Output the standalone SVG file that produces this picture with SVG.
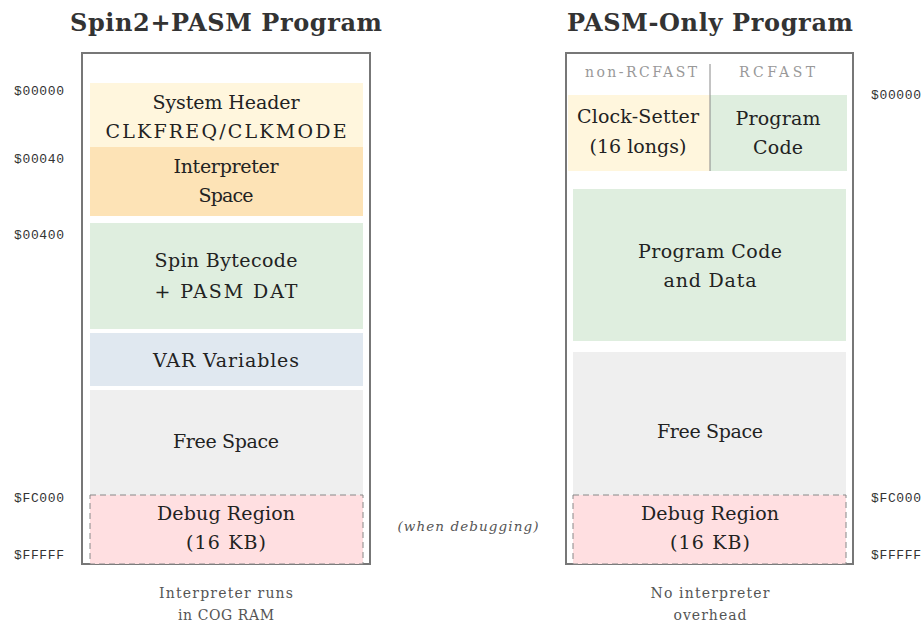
<svg xmlns="http://www.w3.org/2000/svg" width="924" height="626" viewBox="0 0 924 626">
  <style>
    .title { font-family: "DejaVu Serif", "Liberation Serif", serif; font-weight: bold; font-size: 24px; fill: #333; text-anchor: middle; }
    .lbl { font-family: "DejaVu Serif", "Liberation Serif", serif; font-size: 19px; fill: #222; text-anchor: middle; }
    .addr { font-family: "Liberation Mono", "DejaVu Sans Mono", monospace; font-size: 13px; fill: #333; }
    .hdr { font-family: "DejaVu Serif", "Liberation Serif", serif; font-size: 14px; fill: #999; text-anchor: middle; }
    .cap { font-family: "DejaVu Serif", "Liberation Serif", serif; font-size: 14px; fill: #555; text-anchor: middle; }
    .note { font-family: "DejaVu Serif", "Liberation Serif", serif; font-style: italic; font-size: 13.5px; fill: #555; text-anchor: middle; }
    .frame { fill: #fff; stroke: #777; stroke-width: 2; }
    .dbg { fill: #FFDFE1; stroke: #888; stroke-width: 1; stroke-dasharray: 6 4; }
  </style>

  <!-- Spin2 + PASM layout -->
  <g id="spin-program">
    <text class="title" x="226" y="31" textLength="312">Spin2+PASM Program</text>
    <rect class="frame" x="82" y="53" width="288" height="511"/>
    <g id="sys-header">
      <rect x="90" y="83" width="273" height="64" fill="#FFF6DD"/>
      <text class="lbl" x="226" y="109" textLength="147">System Header</text>
      <text class="lbl" x="226" y="138" textLength="241">CLKFREQ/CLKMODE</text>
    </g>
    <g id="interp-space">
      <rect x="90" y="147" width="273" height="69" fill="#FDE3B6"/>
      <text class="lbl" x="226" y="173" textLength="105">Interpreter</text>
      <text class="lbl" x="226" y="202" textLength="55">Space</text>
    </g>
    <g id="spin-bytecode">
      <rect x="90" y="223" width="273" height="106" fill="#DFEEDF"/>
      <text class="lbl" x="226" y="267" textLength="143">Spin Bytecode</text>
      <text class="lbl" x="226" y="298" textLength="143">+ PASM DAT</text>
    </g>
    <g id="var-vars">
      <rect x="90" y="333" width="273" height="53" fill="#E0E8F0"/>
      <text class="lbl" x="226" y="367" textLength="146">VAR Variables</text>
    </g>
    <g id="free-left">
      <rect x="90" y="390" width="273" height="105" fill="#EFEFEF"/>
      <text class="lbl" x="226" y="448" textLength="106">Free Space</text>
    </g>
    <g id="debug-left">
      <rect class="dbg" x="90" y="495" width="273" height="69"/>
      <text class="lbl" x="226" y="520" textLength="138">Debug Region</text>
      <text class="lbl" x="226" y="549" textLength="80">(16 KB)</text>
    </g>
    <text class="addr" x="14" y="95" textLength="50">$00000</text>
    <text class="addr" x="14" y="163" textLength="50">$00040</text>
    <text class="addr" x="14" y="239" textLength="50">$00400</text>
    <text class="addr" x="14" y="502" textLength="50">$FC000</text>
    <text class="addr" x="14" y="559" textLength="50">$FFFFF</text>
    <text class="cap" x="226" y="598" textLength="134">Interpreter runs</text>
    <text class="cap" x="226" y="620" textLength="96">in COG RAM</text>
  </g>

  <text class="note" x="468" y="531" textLength="141">(when debugging)</text>

  <!-- PASM-only layout -->
  <g id="pasm-program">
    <text class="title" x="710" y="31" textLength="286">PASM-Only Program</text>
    <rect class="frame" x="566" y="53" width="287" height="511"/>
    <text class="hdr" x="641" y="77" textLength="112">non-RCFAST</text>
    <text class="hdr" x="777" y="77" textLength="76">RCFAST</text>
    <g id="clock-setter">
      <rect x="568" y="95" width="142" height="76" fill="#FFF6DD"/>
      <text class="lbl" x="638" y="123" textLength="122">Clock-Setter</text>
      <text class="lbl" x="638" y="153" textLength="97">(16 longs)</text>
    </g>
    <g id="program-code">
      <rect x="710" y="95" width="137" height="76" fill="#DFEEDF"/>
      <text class="lbl" x="778" y="125" textLength="85">Program</text>
      <text class="lbl" x="778" y="154" textLength="50">Code</text>
    </g>
    <line x1="710" y1="64" x2="710" y2="171" stroke="#888" stroke-width="1"/>
    <g id="code-data">
      <rect x="573" y="189" width="273" height="152" fill="#DFEEDF"/>
      <text class="lbl" x="710" y="258" textLength="144">Program Code</text>
      <text class="lbl" x="710" y="287" textLength="93">and Data</text>
    </g>
    <g id="free-right">
      <rect x="573" y="352" width="273" height="143" fill="#EFEFEF"/>
      <text class="lbl" x="710" y="438" textLength="106">Free Space</text>
    </g>
    <g id="debug-right">
      <rect class="dbg" x="573" y="495" width="273" height="69"/>
      <text class="lbl" x="710" y="520" textLength="138">Debug Region</text>
      <text class="lbl" x="710" y="549" textLength="80">(16 KB)</text>
    </g>
    <text class="addr" x="871" y="99" textLength="50">$00000</text>
    <text class="addr" x="871" y="502" textLength="50">$FC000</text>
    <text class="addr" x="871" y="559" textLength="50">$FFFFF</text>
    <text class="cap" x="710" y="598" textLength="119">No interpreter</text>
    <text class="cap" x="710" y="620" textLength="73">overhead</text>
  </g>
</svg>
